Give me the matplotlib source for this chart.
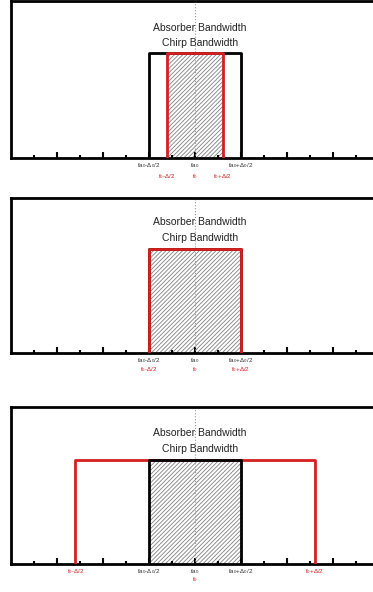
import matplotlib
matplotlib.use("Agg")
import matplotlib.pyplot as plt
import matplotlib.transforms as mtransforms

plt.rcParams['font.family'] = ['Liberation Sans', 'DejaVu Sans']
plt.rcParams['hatch.color'] = '#808080'
plt.rcParams['hatch.linewidth'] = 0.6
plt.rcParams['mathtext.fontset'] = 'custom'
plt.rcParams['mathtext.rm'] = 'Liberation Sans'
plt.rcParams['mathtext.it'] = 'Liberation Sans'

# ---- data ----
absorber_edges = [(-2.0, 2.0), (-2.0, 2.0), (-2.0, 2.0)]
chirp_edges = [(-1.22, 1.22), (-2.0, 2.0), (-5.2, 5.2)]
box_height = [0.67, 0.67, 0.66]
center = 0.0
xlim = (-8, 8)
major_ticks = [-6, -4, -2, 0, 2, 4, 6]
minor_ticks = [-7, -5, -3, -1, 1, 3, 5, 7]
absorber_labels = [r"fa$_0$-$\Delta_0$/2", r"fa$_0$", r"fa$_0$+$\Delta_0$/2"]
chirp_labels = [r"f$_0$-$\Delta$/2", r"f$_0$", r"f$_0$+$\Delta$/2"]
title_absorber = "Absorber Bandwidth"
title_chirp = "Chirp Bandwidth"

W, H = 373, 592
fig = plt.figure(figsize=(W / 100, H / 100), dpi=100)

# (top_px, bottom_px) for each panel
panel_px = [(1, 158), (198, 353), (407, 564)]
title_px = [(28, 43), (222, 238), (433, 449)]
left_px, right_px = 11, 379

RED = '#d42020'

for i, (top, bot) in enumerate(panel_px):
    ph = bot - top
    ax = fig.add_axes([left_px / W, (H - bot) / H, (right_px - left_px) / W, ph / H])
    ax.set_xlim(*xlim)
    ax.set_ylim(0, 1)
    for s in ax.spines.values():
        s.set_linewidth(2.0)
        s.set_color('black')
    ax.set_xticks(major_ticks)
    ax.set_xticks(minor_ticks, minor=True)
    ax.set_xticklabels([])
    ax.set_yticks([])
    ax.tick_params(axis='x', which='major', direction='in', length=4, width=1.5, bottom=True, top=False)
    ax.tick_params(axis='x', which='minor', direction='in', length=2.5, width=1.5, bottom=True, top=False)

    al, ar = absorber_edges[i]
    cl, cr = chirp_edges[i]
    h = box_height[i]

    # hatched overlap region
    hl, hr = max(al, cl), min(ar, cr)
    ax.fill_between([hl, hr], 0, h, facecolor='none', edgecolor='#808080',
                    hatch='////////', linewidth=0, zorder=1)

    # center dotted line
    ax.axvline(center, color='#999999', linestyle=':', linewidth=0.8, zorder=2)

    # boxes
    if i == 2:
        ax.plot([cl, cl, cr, cr], [0, h, h, 0], color=RED, lw=2.0, zorder=3)
        ax.plot([al, al, ar, ar], [0, h, h, 0], color='black', lw=2.0, zorder=4)
    else:
        ax.plot([al, al, ar, ar], [0, h, h, 0], color='black', lw=2.0, zorder=3)
        ax.plot([cl, cl, cr, cr], [0, h, h, 0], color=RED, lw=2.0, zorder=4)

    # titles
    ax.text(center + 0.2, (bot - title_px[i][0]) / ph, title_absorber,
            ha='center', va='center', fontsize=7.5, color='#222222')
    ax.text(center + 0.2, (bot - title_px[i][1]) / ph, title_chirp,
            ha='center', va='center', fontsize=7.5, color='#222222')

    trans = mtransforms.blended_transform_factory(ax.transData, ax.transAxes)
    yb = -7.5 / ph
    yr = -19.0 / ph
    for x, lab in zip([al, center, ar], absorber_labels):
        ax.text(x, yb, lab, ha='center', va='center', fontsize=4.5, color='#333333', transform=trans)
    if i == 2:
        ax.text(cl, yb, chirp_labels[0], ha='center', va='center', fontsize=4.5, color=RED, transform=trans)
        ax.text(center, yr + 0.02, chirp_labels[1], ha='center', va='center', fontsize=4.5, color=RED, transform=trans)
        ax.text(cr, yb, chirp_labels[2], ha='center', va='center', fontsize=4.5, color=RED, transform=trans)
    else:
        yr2 = yr if i == 0 else -17.0 / ph
        for x, lab in zip([cl, center, cr], chirp_labels):
            ax.text(x, yr2, lab, ha='center', va='center', fontsize=4.5, color=RED, transform=trans)

fig.savefig('out.png', dpi=100)
